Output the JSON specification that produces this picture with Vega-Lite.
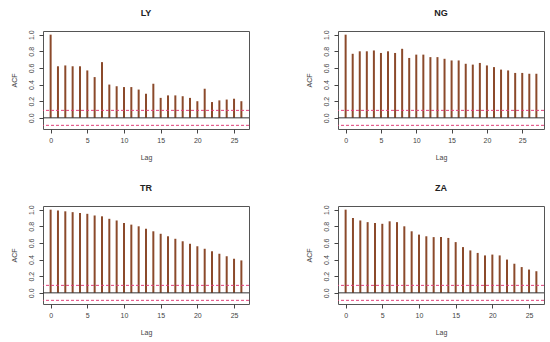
{
  "$schema": "https://vega.github.io/schema/vega-lite/v6.json",
  "padding": {"left": 9, "top": 8, "right": 5, "bottom": 5},
  "background": "white",
  "spacing": 22,
  "datasets": {
    "LY": [
      {"lag": 0, "acf": 1.0}, {"lag": 1, "acf": 0.62}, {"lag": 2, "acf": 0.63}, {"lag": 3, "acf": 0.62},
      {"lag": 4, "acf": 0.62}, {"lag": 5, "acf": 0.57}, {"lag": 6, "acf": 0.49}, {"lag": 7, "acf": 0.67},
      {"lag": 8, "acf": 0.40}, {"lag": 9, "acf": 0.38}, {"lag": 10, "acf": 0.37}, {"lag": 11, "acf": 0.37},
      {"lag": 12, "acf": 0.34}, {"lag": 13, "acf": 0.29}, {"lag": 14, "acf": 0.41}, {"lag": 15, "acf": 0.24},
      {"lag": 16, "acf": 0.27}, {"lag": 17, "acf": 0.27}, {"lag": 18, "acf": 0.26}, {"lag": 19, "acf": 0.24},
      {"lag": 20, "acf": 0.20}, {"lag": 21, "acf": 0.35}, {"lag": 22, "acf": 0.19}, {"lag": 23, "acf": 0.21},
      {"lag": 24, "acf": 0.22}, {"lag": 25, "acf": 0.23}, {"lag": 26, "acf": 0.20}
    ],
    "NG": [
      {"lag": 0, "acf": 1.0}, {"lag": 1, "acf": 0.77}, {"lag": 2, "acf": 0.80}, {"lag": 3, "acf": 0.80},
      {"lag": 4, "acf": 0.81}, {"lag": 5, "acf": 0.78}, {"lag": 6, "acf": 0.80}, {"lag": 7, "acf": 0.78},
      {"lag": 8, "acf": 0.83}, {"lag": 9, "acf": 0.72}, {"lag": 10, "acf": 0.76}, {"lag": 11, "acf": 0.76},
      {"lag": 12, "acf": 0.73}, {"lag": 13, "acf": 0.73}, {"lag": 14, "acf": 0.71}, {"lag": 15, "acf": 0.69},
      {"lag": 16, "acf": 0.69}, {"lag": 17, "acf": 0.65}, {"lag": 18, "acf": 0.64}, {"lag": 19, "acf": 0.66},
      {"lag": 20, "acf": 0.63}, {"lag": 21, "acf": 0.61}, {"lag": 22, "acf": 0.58}, {"lag": 23, "acf": 0.57},
      {"lag": 24, "acf": 0.54}, {"lag": 25, "acf": 0.54}, {"lag": 26, "acf": 0.53}, {"lag": 27, "acf": 0.53}
    ],
    "TR": [
      {"lag": 0, "acf": 1.0}, {"lag": 1, "acf": 0.99}, {"lag": 2, "acf": 0.98}, {"lag": 3, "acf": 0.97},
      {"lag": 4, "acf": 0.96}, {"lag": 5, "acf": 0.95}, {"lag": 6, "acf": 0.93}, {"lag": 7, "acf": 0.92},
      {"lag": 8, "acf": 0.89}, {"lag": 9, "acf": 0.87}, {"lag": 10, "acf": 0.84}, {"lag": 11, "acf": 0.82},
      {"lag": 12, "acf": 0.80}, {"lag": 13, "acf": 0.77}, {"lag": 14, "acf": 0.74}, {"lag": 15, "acf": 0.71},
      {"lag": 16, "acf": 0.68}, {"lag": 17, "acf": 0.65}, {"lag": 18, "acf": 0.62}, {"lag": 19, "acf": 0.59},
      {"lag": 20, "acf": 0.56}, {"lag": 21, "acf": 0.53}, {"lag": 22, "acf": 0.50}, {"lag": 23, "acf": 0.47},
      {"lag": 24, "acf": 0.44}, {"lag": 25, "acf": 0.41}, {"lag": 26, "acf": 0.39}
    ],
    "ZA": [
      {"lag": 0, "acf": 1.0}, {"lag": 1, "acf": 0.90}, {"lag": 2, "acf": 0.87}, {"lag": 3, "acf": 0.85},
      {"lag": 4, "acf": 0.84}, {"lag": 5, "acf": 0.83}, {"lag": 6, "acf": 0.86}, {"lag": 7, "acf": 0.85},
      {"lag": 8, "acf": 0.80}, {"lag": 9, "acf": 0.74}, {"lag": 10, "acf": 0.70}, {"lag": 11, "acf": 0.68},
      {"lag": 12, "acf": 0.67}, {"lag": 13, "acf": 0.67}, {"lag": 14, "acf": 0.66}, {"lag": 15, "acf": 0.61},
      {"lag": 16, "acf": 0.55}, {"lag": 17, "acf": 0.51}, {"lag": 18, "acf": 0.48}, {"lag": 19, "acf": 0.45},
      {"lag": 20, "acf": 0.46}, {"lag": 21, "acf": 0.45}, {"lag": 22, "acf": 0.40}, {"lag": 23, "acf": 0.35},
      {"lag": 24, "acf": 0.31}, {"lag": 25, "acf": 0.28}, {"lag": 26, "acf": 0.26}
    ],
    "bands": [{"level": 0.09, "kind": "ci"}, {"level": -0.09, "kind": "ci"}]
  },
  "vconcat": [
    {
      "bounds": "flush",
      "spacing": 89,
      "hconcat": [
        {
          "title": {"text": "LY"},
          "width": 206, "height": 98,
          "layer": [
            {"data": {"name": "LY"}, "mark": {"type": "rule", "color": "#8B4A2B", "strokeWidth": 2},
             "encoding": {
               "x": {"field": "lag", "type": "quantitative", "title": "Lag", "scale": {"domain": [-1.04, 27.04], "nice": false, "zero": false}, "axis": {"values": [0, 5, 10, 15, 20, 25], "labelOverlap": false}},
               "y": {"field": "acf", "type": "quantitative", "title": "ACF", "scale": {"domain": [-0.134, 1.044], "nice": false, "zero": false}, "axis": {"values": [0, 0.2, 0.4, 0.6, 0.8, 1.0], "format": ".1f", "labelOverlap": false}},
               "y2": {"datum": 0}}},
            {"data": {"values": [{}]}, "mark": {"type": "rule", "color": "#333333", "strokeWidth": 1}, "encoding": {"y": {"datum": 0, "title": "ACF", "axis": {"values": [0, 0.2, 0.4, 0.6, 0.8, 1.0], "format": ".1f", "labelOverlap": false}}}},
            {"data": {"name": "bands"}, "mark": {"type": "rule", "color": "#E0407A", "strokeWidth": 1, "strokeDash": [3, 2]}, "encoding": {"y": {"field": "level", "type": "quantitative", "title": "ACF", "axis": {"values": [0, 0.2, 0.4, 0.6, 0.8, 1.0], "format": ".1f", "labelOverlap": false}}}}
          ]
        },
        {
          "title": {"text": "NG"},
          "width": 206, "height": 98,
          "layer": [
            {"data": {"name": "NG"}, "mark": {"type": "rule", "color": "#8B4A2B", "strokeWidth": 2},
             "encoding": {
               "x": {"field": "lag", "type": "quantitative", "title": "Lag", "scale": {"domain": [-1.08, 28.08], "nice": false, "zero": false}, "axis": {"values": [0, 5, 10, 15, 20, 25], "labelOverlap": false}},
               "y": {"field": "acf", "type": "quantitative", "title": "ACF", "scale": {"domain": [-0.134, 1.044], "nice": false, "zero": false}, "axis": {"values": [0, 0.2, 0.4, 0.6, 0.8, 1.0], "format": ".1f", "labelOverlap": false}},
               "y2": {"datum": 0}}},
            {"data": {"values": [{}]}, "mark": {"type": "rule", "color": "#333333", "strokeWidth": 1}, "encoding": {"y": {"datum": 0, "title": "ACF", "axis": {"values": [0, 0.2, 0.4, 0.6, 0.8, 1.0], "format": ".1f", "labelOverlap": false}}}},
            {"data": {"name": "bands"}, "mark": {"type": "rule", "color": "#E0407A", "strokeWidth": 1, "strokeDash": [3, 2]}, "encoding": {"y": {"field": "level", "type": "quantitative", "title": "ACF", "axis": {"values": [0, 0.2, 0.4, 0.6, 0.8, 1.0], "format": ".1f", "labelOverlap": false}}}}
          ]
        }
      ]
    },
    {
      "bounds": "flush",
      "spacing": 89,
      "hconcat": [
        {
          "title": {"text": "TR"},
          "width": 206, "height": 98,
          "layer": [
            {"data": {"name": "TR"}, "mark": {"type": "rule", "color": "#8B4A2B", "strokeWidth": 2},
             "encoding": {
               "x": {"field": "lag", "type": "quantitative", "title": "Lag", "scale": {"domain": [-1.04, 27.04], "nice": false, "zero": false}, "axis": {"values": [0, 5, 10, 15, 20, 25], "labelOverlap": false}},
               "y": {"field": "acf", "type": "quantitative", "title": "ACF", "scale": {"domain": [-0.134, 1.044], "nice": false, "zero": false}, "axis": {"values": [0, 0.2, 0.4, 0.6, 0.8, 1.0], "format": ".1f", "labelOverlap": false}},
               "y2": {"datum": 0}}},
            {"data": {"values": [{}]}, "mark": {"type": "rule", "color": "#333333", "strokeWidth": 1}, "encoding": {"y": {"datum": 0, "title": "ACF", "axis": {"values": [0, 0.2, 0.4, 0.6, 0.8, 1.0], "format": ".1f", "labelOverlap": false}}}},
            {"data": {"name": "bands"}, "mark": {"type": "rule", "color": "#E0407A", "strokeWidth": 1, "strokeDash": [3, 2]}, "encoding": {"y": {"field": "level", "type": "quantitative", "title": "ACF", "axis": {"values": [0, 0.2, 0.4, 0.6, 0.8, 1.0], "format": ".1f", "labelOverlap": false}}}}
          ]
        },
        {
          "title": {"text": "ZA"},
          "width": 206, "height": 98,
          "layer": [
            {"data": {"name": "ZA"}, "mark": {"type": "rule", "color": "#8B4A2B", "strokeWidth": 2},
             "encoding": {
               "x": {"field": "lag", "type": "quantitative", "title": "Lag", "scale": {"domain": [-1.04, 27.04], "nice": false, "zero": false}, "axis": {"values": [0, 5, 10, 15, 20, 25], "labelOverlap": false}},
               "y": {"field": "acf", "type": "quantitative", "title": "ACF", "scale": {"domain": [-0.134, 1.044], "nice": false, "zero": false}, "axis": {"values": [0, 0.2, 0.4, 0.6, 0.8, 1.0], "format": ".1f", "labelOverlap": false}},
               "y2": {"datum": 0}}},
            {"data": {"values": [{}]}, "mark": {"type": "rule", "color": "#333333", "strokeWidth": 1}, "encoding": {"y": {"datum": 0, "title": "ACF", "axis": {"values": [0, 0.2, 0.4, 0.6, 0.8, 1.0], "format": ".1f", "labelOverlap": false}}}},
            {"data": {"name": "bands"}, "mark": {"type": "rule", "color": "#E0407A", "strokeWidth": 1, "strokeDash": [3, 2]}, "encoding": {"y": {"field": "level", "type": "quantitative", "title": "ACF", "axis": {"values": [0, 0.2, 0.4, 0.6, 0.8, 1.0], "format": ".1f", "labelOverlap": false}}}}
          ]
        }
      ]
    }
  ],
  "config": {
    "font": "Liberation Sans",
    "view": {"stroke": "#555555", "strokeWidth": 1},
    "title": {"fontSize": 9, "fontWeight": "bold", "color": "#222222", "offset": 12, "anchor": "middle"},
    "axis": {
      "grid": false, "domain": false, "tickColor": "#444444", "tickSize": 4,
      "labelFontSize": 7, "titleFontSize": 7, "labelColor": "#444444", "titleColor": "#444444",
      "titleFontWeight": "normal", "labelPadding": 3, "titlePadding": 10, "labelOverlap": false
    },
    "axisY": {"labelAngle": -90, "labelAlign": "center", "labelBaseline": "bottom", "labelPadding": 5, "titlePadding": 10, "labelOverlap": false}
  }
}
